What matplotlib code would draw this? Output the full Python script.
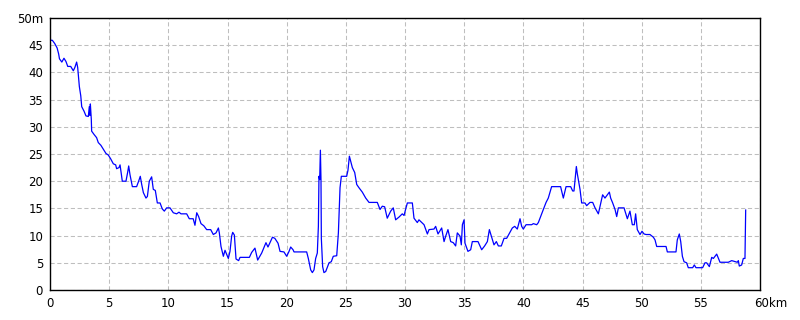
import numpy as np
import matplotlib
matplotlib.use("Agg")
import matplotlib.pyplot as plt

# distance (km) and elevation (m)
dist_km = [
    0, 0.05, 0.2, 0.4, 0.6, 0.73, 0.8, 1.0, 1.18, 1.35, 1.5, 1.75, 1.97, 2.1, 2.25, 2.34, 2.4, 2.48,
    2.6, 2.68, 2.87, 3.04, 3.24, 3.32, 3.38, 3.41, 3.49, 3.52, 3.72, 3.94, 4.08, 4.3, 4.5, 4.73,
    4.93, 5.13, 5.35, 5.55, 5.63, 5.83, 5.92, 5.97, 6.11, 6.42, 6.56, 6.65, 6.76, 6.96, 7.32, 7.49,
    7.63, 7.75, 7.89, 8.11, 8.23, 8.39, 8.59, 8.73, 8.9, 9.07, 9.3, 9.49, 9.66, 9.86, 10.14, 10.42,
    10.7, 10.9, 11.07, 11.55, 11.77, 12.1, 12.25, 12.4, 12.56, 12.76, 13.0, 13.24, 13.58, 13.8,
    14.03, 14.23, 14.31, 14.45, 14.65, 14.79, 15.07, 15.21, 15.35, 15.44, 15.58, 15.72, 15.94,
    16.06, 16.85, 17.04, 17.32, 17.55, 17.89, 18.25, 18.42, 18.8, 19.0, 19.27, 19.44, 19.77,
    20.0, 20.2, 20.34, 20.54, 20.62, 21.69, 21.83, 22.03, 22.17, 22.31, 22.45, 22.59, 22.68,
    22.73, 22.79, 22.85, 22.9, 22.93, 23.04, 23.15, 23.3, 23.58, 23.77, 23.94, 24.23, 24.37,
    24.51, 24.62, 25.07, 25.18, 25.3, 25.41, 25.55, 25.75, 25.92, 26.11, 26.39, 26.68, 26.96,
    27.66, 27.89, 28.08, 28.28, 28.5, 28.79, 29.01, 29.21, 29.49, 29.77, 29.92, 30.06, 30.2,
    30.62, 30.76, 31.04, 31.18, 31.61, 31.89, 32.03, 32.45, 32.59, 32.79, 33.1, 33.3, 33.44,
    33.63, 33.86, 34.08, 34.28, 34.42, 34.65, 34.76, 34.85, 34.99, 35.07, 35.32, 35.55, 35.69,
    36.17, 36.48, 36.73, 36.96, 37.13, 37.3, 37.52, 37.72, 37.89, 38.14, 38.37, 38.59, 38.79,
    39.07, 39.27, 39.49, 39.72, 39.86, 40.0, 40.23, 40.7, 40.85, 41.13, 41.27, 41.46, 41.69,
    41.92, 42.11, 42.39, 43.15, 43.38, 43.61, 44.0, 44.17, 44.28, 44.37, 44.48, 44.56, 44.79,
    44.93, 45.21, 45.35, 45.63, 45.86, 46.06, 46.34, 46.54, 46.7, 46.9, 47.1, 47.27, 47.38,
    47.55, 47.75, 47.89, 48.03, 48.51, 48.68, 48.79, 49.01, 49.21, 49.38, 49.49, 49.63, 49.86,
    50.03, 50.2, 50.37, 50.7, 50.99, 51.13, 51.27, 52.06, 52.17, 52.9, 53.01, 53.18, 53.3,
    53.44, 53.58, 53.8, 53.94, 54.31, 54.45, 54.59, 55.15, 55.35, 55.49, 55.72, 55.92, 56.06,
    56.34, 56.62, 57.32, 57.61, 58.08, 58.17, 58.25, 58.45, 58.59, 58.73, 58.79,
]
elev_m = [
    46.9, 45.9, 45.9, 45.3, 44.5, 43.4, 42.5, 41.9, 42.6, 42.0, 41.1, 41.1, 40.3, 40.9, 41.9, 40.9,
    39.4, 37.4, 35.7, 33.7, 32.9, 32.0, 31.9, 33.7, 32.1, 34.2, 31.4, 29.2, 28.6, 28.0, 27.1,
    26.6, 25.9, 25.1, 24.8, 24.1, 23.2, 23.0, 22.3, 22.5, 23.0, 22.2, 20.0, 20.0, 21.6, 22.8,
    21.2, 19.0, 19.0, 20.0, 20.9, 19.4, 17.9, 16.9, 17.2, 20.0, 20.8, 18.5, 18.3, 16.0, 16.0,
    14.9, 14.5, 15.1, 15.1, 14.2, 14.0, 14.3, 14.0, 14.0, 13.1, 13.1, 11.9, 14.2, 13.5, 12.2,
    11.8, 11.1, 11.1, 10.2, 10.5, 11.4, 10.5, 8.0, 6.2, 7.3, 5.8, 7.1, 9.9, 10.6, 10.1, 5.7,
    5.4, 6.0, 6.0, 6.9, 7.7, 5.5, 6.8, 8.7, 7.9, 9.7, 9.5, 8.6, 7.1, 7.0, 6.2, 7.1, 7.9, 7.4,
    7.0, 7.0, 5.8, 3.7, 3.2, 3.7, 5.8, 6.8, 11.7, 20.9, 20.3, 25.7, 20.3, 9.5, 4.3, 3.2, 3.4,
    5.0, 5.2, 6.2, 6.3, 10.5, 18.8, 20.9, 20.9, 22.0, 24.6, 23.7, 22.5, 21.6, 19.4, 18.8, 18.0,
    16.9, 16.1, 16.1, 14.8, 15.4, 15.3, 13.2, 14.5, 15.1, 12.9, 13.4, 14.0, 13.7, 14.9, 16.0,
    16.0, 13.2, 12.4, 12.9, 12.0, 10.3, 11.1, 11.2, 11.7, 10.3, 11.4, 8.9, 9.9, 11.1, 8.9, 8.7,
    8.1, 10.5, 9.9, 8.3, 12.0, 12.9, 8.6, 7.1, 7.4, 8.9, 8.9, 7.4, 8.1, 8.9, 11.1, 9.9, 8.3,
    8.9, 8.1, 8.1, 9.5, 9.5, 10.3, 11.4, 11.7, 11.2, 13.1, 11.7, 11.2, 12.0, 12.0, 12.2, 12.0,
    12.4, 13.5, 14.8, 16.1, 16.9, 19.0, 19.0, 16.9, 19.0, 19.0, 18.2, 18.2, 20.3, 22.7, 21.4,
    18.5, 16.0, 16.0, 15.5, 16.1, 16.1, 15.1, 14.0, 15.9, 17.5, 16.9, 17.5, 18.0, 16.9, 16.0,
    14.8, 13.5, 15.1, 15.1, 13.9, 13.1, 14.5, 12.0, 12.0, 14.0, 11.1, 10.2, 10.8, 10.3, 10.2,
    10.2, 9.7, 9.2, 8.0, 8.0, 7.0, 7.0, 9.2, 10.3, 8.9, 6.2, 5.2, 5.0, 4.1, 4.1, 4.6, 4.1, 4.1,
    5.0, 5.0, 4.3, 6.0, 5.8, 6.6, 5.1, 5.1, 5.4, 5.1, 5.4, 4.4, 4.6, 5.8, 5.8, 14.7,
]

x_ticks = [0, 5, 10, 15, 20, 25, 30, 35, 40, 45, 50, 55, 60]
x_labels = ['0', '5', '10', '15', '20', '25', '30', '35', '40', '45', '50', '55', '']
y_ticks = [0, 5, 10, 15, 20, 25, 30, 35, 40, 45, 50]
y_labels = ['0', '5', '10', '15', '20', '25', '30', '35', '40', '45', '50m']

fig = plt.figure(figsize=(8, 3.2), dpi=100)
ax = fig.add_axes([50 / 800, 30 / 320, 710 / 800, 272 / 320])

ax.plot(dist_km, elev_m, color='#0000ff', lw=0.9)

ax.set_xlim(0, 60)
ax.set_ylim(0, 50)
ax.set_xticks(x_ticks)
ax.set_xticklabels(x_labels)
ax.set_yticks(y_ticks)
ax.set_yticklabels(y_labels)
ax.tick_params(length=0, labelsize=8.5, pad=5)
ax.grid(True, color='#bebebe', ls=(0, (4, 2.5)), lw=0.75)
for s in ax.spines.values():
    s.set_color('black')
    s.set_linewidth(1.0)

# last x label sits with its number on the tick and the unit hanging right
ax.annotate('60km', xy=(60, 0), xycoords=('data', 'axes fraction'),
            xytext=(-4.5, -5), textcoords='offset points',
            ha='left', va='top', fontsize=8.5)

fig.savefig('out.png', dpi=100)
